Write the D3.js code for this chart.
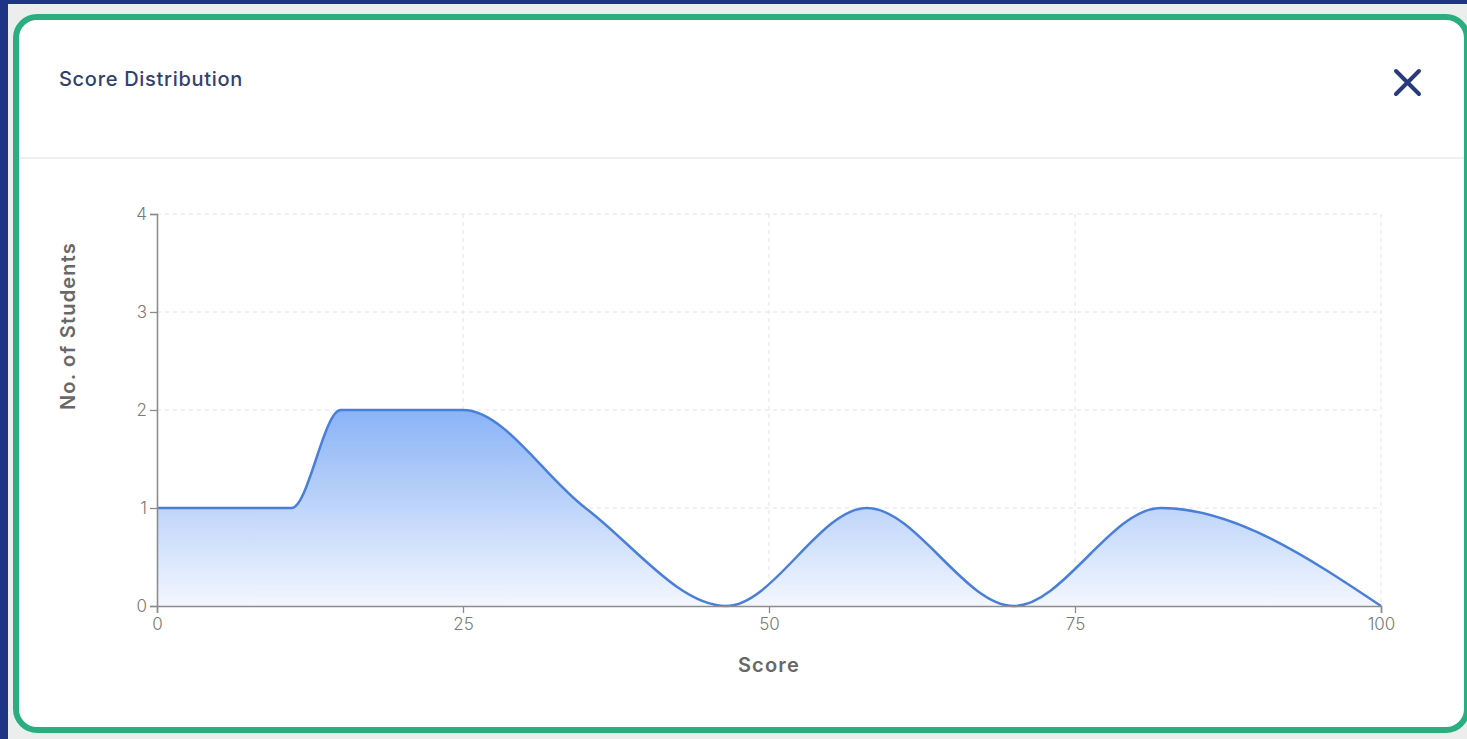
<!DOCTYPE html>
<html lang="en">

<head>
    <meta charset="UTF-8">
    <title>Score Distribution</title>
    <script src="https://d3js.org/d3.v7.min.js"></script>
    <style>
        html, body {
            margin: 0;
            padding: 0;
            width: 1467px;
            height: 739px;
            overflow: hidden;
            background: #1d3584;
            font-family: Inter, "Noto Sans", sans-serif;
        }

        /* grey page showing behind the modal */
        .backdrop {
            position: absolute;
            left: 8px;
            top: 4px;
            right: 0;
            bottom: 0;
            background: #eceeee;
        }

        .card {
            position: absolute;
            left: 13px;
            top: 14px;
            width: 1445px;
            height: 707px;
            border: 6px solid #2aae80;
            border-radius: 24px;
            background: #fff;
        }

        .card .header {
            height: 137px;
            border-bottom: 2px solid #efefef;
        }

        #chart {
            position: absolute;
            left: 0;
            top: 0;
        }
    </style>
</head>

<body>
    <div class="backdrop"></div>
    <div class="card">
        <div class="header"></div>
    </div>
    <svg id="chart" width="1467" height="739"></svg>

    <script>
        // score distribution data
        const scores = [0, 11, 15, 25, 35, 46.5, 58, 70, 82, 100];
        const students = [1, 1, 2, 2, 1, 0, 1, 0, 1, 0];
        const xTicks = [0, 25, 50, 75, 100];
        const yTicks = [0, 1, 2, 3, 4];

        const data = scores.map((s, i) => ({ score: s, count: students[i] }));

        const svg = d3.select("#chart");

        const x = d3.scaleLinear().domain([0, 100]).range([157, 1381]);
        const y = d3.scaleLinear().domain([0, 4]).range([606, 214]);

        // header: title and close icon
        svg.append("text")
            .attr("x", 59)
            .attr("y", 86)
            .attr("fill", "#33406f")
            .attr("font-size", 20)
            .attr("font-weight", 500)
            .attr("letter-spacing", 0.7)
            .text("Score Distribution");

        svg.append("g")
            .attr("stroke", "#273a7c")
            .attr("stroke-width", 4)
            .attr("stroke-linecap", "round")
            .selectAll("line")
            .data([[1396, 71, 1419, 94], [1419, 71, 1396, 94]])
            .join("line")
            .attr("x1", d => d[0]).attr("y1", d => d[1])
            .attr("x2", d => d[2]).attr("y2", d => d[3]);

        // gradient for the area
        const grad = svg.append("defs").append("linearGradient")
            .attr("id", "areaFill")
            .attr("gradientUnits", "userSpaceOnUse")
            .attr("x1", 0).attr("x2", 0)
            .attr("y1", y(2)).attr("y2", y(0));
        grad.append("stop").attr("offset", 0).attr("stop-color", "#8ab3f6");
        grad.append("stop").attr("offset", 1).attr("stop-color", "#f3f7fe");

        // dashed grid
        const grid = svg.append("g")
            .attr("stroke", "#e2e2e2")
            .attr("stroke-dasharray", "4,4");

        grid.selectAll(".hgrid")
            .data(yTicks.slice(1))
            .join("line")
            .attr("x1", x(0)).attr("x2", x(100))
            .attr("y1", d => y(d)).attr("y2", d => y(d));

        grid.selectAll(".vgrid")
            .data(xTicks.slice(1))
            .join("line")
            .attr("x1", d => x(d)).attr("x2", d => x(d))
            .attr("y1", y(4)).attr("y2", y(0));

        // area + line
        const area = d3.area()
            .x(d => x(d.score))
            .y0(y(0))
            .y1(d => y(d.count))
            .curve(d3.curveMonotoneX);

        const line = d3.line()
            .x(d => x(d.score))
            .y(d => y(d.count))
            .curve(d3.curveMonotoneX);

        svg.append("path")
            .datum(data)
            .attr("fill", "url(#areaFill)")
            .attr("d", area);

        svg.append("path")
            .datum(data)
            .attr("fill", "none")
            .attr("stroke", "#4a7fd9")
            .attr("stroke-width", 2.5)
            .attr("d", line);

        // axes
        const xAxis = svg.append("g")
            .attr("transform", `translate(0,${y(0)})`)
            .call(d3.axisBottom(x).tickValues(xTicks).tickFormat(d3.format("d"))
                .tickSizeOuter(0).tickSize(7).tickPadding(5));

        const yAxis = svg.append("g")
            .attr("transform", `translate(${x(0)},0)`)
            .call(d3.axisLeft(y).tickValues(yTicks).tickFormat(d3.format("d"))
                .tickSizeOuter(0).tickSize(7).tickPadding(3));

        [xAxis, yAxis].forEach(g => {
            g.select(".domain").attr("stroke", "#8c8c8c").attr("stroke-width", 1.6);
            g.selectAll(".tick line").attr("stroke", "#8c8c8c").attr("stroke-width", 1.3);
            g.selectAll(".tick text")
                .attr("fill", "#7a7a7a")
                .attr("font-size", 17)
                .attr("font-weight", 300)
                .attr("font-family", "Inter, 'Noto Sans', sans-serif");
        });

        // axis titles
        svg.append("text")
            .attr("x", x(50))
            .attr("y", 672)
            .attr("text-anchor", "middle")
            .attr("fill", "#686868")
            .attr("font-size", 20)
            .attr("font-weight", 600)
            .attr("letter-spacing", 1.2)
            .text("Score");

        svg.append("text")
            .attr("transform", "translate(75,326) rotate(-90)")
            .attr("text-anchor", "middle")
            .attr("fill", "#686868")
            .attr("font-size", 20)
            .attr("font-weight", 600)
            .attr("letter-spacing", 1.2)
            .text("No. of Students");
    </script>
</body>

</html>
